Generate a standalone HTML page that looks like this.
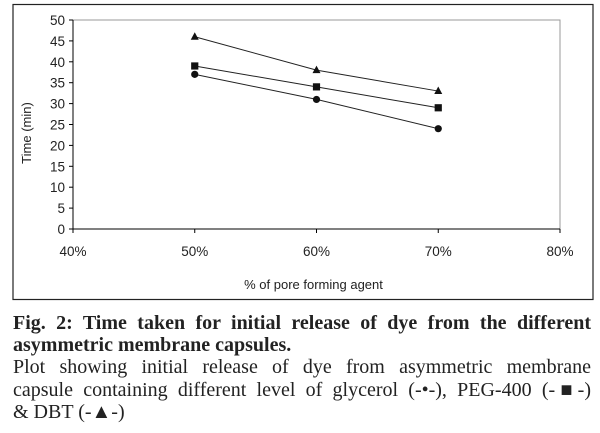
<!DOCTYPE html>
<html><head><meta charset="utf-8"><style>
body{margin:0;width:600px;height:433px;background:#fff;overflow:hidden;font-family:"Liberation Sans",sans-serif}
#cap{position:absolute;left:13px;top:312px;width:578px;font-family:"Liberation Serif",serif;font-size:20px;line-height:22.2px;color:#222}
#cap div{white-space:nowrap;text-align:justify;text-align-last:justify}
#cap div.last{text-align-last:left}
</style></head><body>
<svg id="chart" width="600" height="310" style="position:absolute;left:0;top:0"></svg>
<div id="cap">
<div style="font-weight:bold">Fig. 2: Time taken for initial release of dye from the different</div>
<div class="last" style="font-weight:bold">asymmetric membrane capsules.</div>
<div>Plot showing initial release of dye from asymmetric membrane</div>
<div>capsule containing different level of glycerol (-•-), PEG-400 (-■-)</div>
<div class="last">&amp; DBT (-▲-)</div>
</div>
<script>
const categories=[0.5,0.6,0.7];
const glycerol=[37,31,24];
const peg400=[39,34,29];
const dbt=[46,38,33];
const yTicks=[0,5,10,15,20,25,30,35,40,45,50];
const xTicks=[0.4,0.5,0.6,0.7,0.8];
const xTickLabels=["40%","50%","60%","70%","80%"];
const svg=document.getElementById('chart');
const NS='http://www.w3.org/2000/svg';
const L=73,R=560,T=20,B=229;
const x=v=>L+(v-0.4)/0.4*(R-L);
const y=v=>B-v/50*(B-T);
function mk(t,a,p){const e=document.createElementNS(NS,t);for(const k in a)e.setAttribute(k,a[k]);(p||svg).appendChild(e);return e;}
let e;
e=mk('rect',{x:13,y:4.5,width:580,height:295,fill:'none',stroke:'#222','stroke-width':1.2});


e=mk('rect',{x:L,y:T,width:R-L,height:B-T,fill:'none',stroke:'#999','stroke-width':1});


e=mk('line',{x1:L,y1:T,x2:L,y2:B,stroke:'#000'});


e=mk('line',{x1:L,y1:B,x2:R,y2:B,stroke:'#000'});


yTicks.forEach(v=>{
 mk('line',{x1:L-4,y1:y(v),x2:L,y2:y(v),stroke:'#000'});
 e=mk('text',{x:L-8,y:y(v)+5,'text-anchor':'end','font-size':13.5,fill:'#222'});
 e.textContent=v;
 
 
});
xTicks.forEach((v,i)=>{
 mk('line',{x1:x(v),y1:B,x2:x(v),y2:B+4,stroke:'#000'});
 e=mk('text',{x:x(v),y:256,'text-anchor':'middle','font-size':13.5,fill:'#222'});
 e.textContent=xTickLabels[i];
 
 
});
e=mk('text',{x:(L+R)/2-3,y:289,'text-anchor':'middle','font-size':13,fill:'#222'});
e.textContent='% of pore forming agent';


e=mk('text',{x:0,y:0,'text-anchor':'middle','font-size':13,fill:'#222',transform:'translate(31,133) rotate(-90)'});
e.textContent='Time  (min)';


function series(vals,shape,name){
 e=mk('polyline',{points:vals.map((v,i)=>x(categories[i])+','+y(v)).join(' '),fill:'none',stroke:'#222','stroke-width':1});
 
 
 vals.forEach((v,i)=>{
  const cx=x(categories[i]),cy=y(v);
  if(shape==='circle')e=mk('circle',{cx:cx,cy:cy,r:3.6,fill:'#111'});
  else if(shape==='square')e=mk('rect',{x:cx-3.6,y:cy-3.6,width:7.2,height:7.2,fill:'#111'});
  else e=mk('polygon',{points:`${cx},${cy-4.5} ${cx-4},${cy+3} ${cx+4},${cy+3}`,fill:'#111'});
  
  
 });
}
series(dbt,'tri','dbt');
series(peg400,'square','peg400');
series(glycerol,'circle','glycerol');
</script>
</body></html>
